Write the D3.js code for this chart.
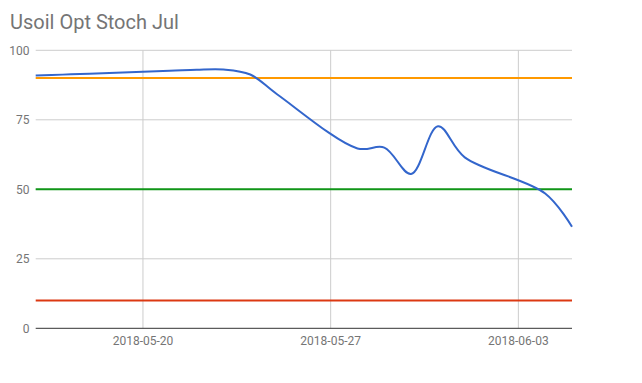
<!DOCTYPE html>
<html>
<head>
<meta charset="utf-8">
<script src="https://cdn.jsdelivr.net/npm/d3@7.9.0/dist/d3.min.js"></script>
<style>
  body { margin: 0; background: #fff; }
  text { font-family: Roboto, sans-serif; }
</style>
</head>
<body>
<svg id="chart" width="642" height="383"></svg>
<script>
// stochastic values, trading days only
const dates = ['2018-05-16', '2018-05-17', '2018-05-18', '2018-05-21', '2018-05-22', '2018-05-23',
    '2018-05-24', '2018-05-25', '2018-05-28', '2018-05-29', '2018-05-30', '2018-05-31',
    '2018-06-01', '2018-06-04', '2018-06-05'];
const stoch = [90.9, 91.25, 91.6, 92.6, 93.0, 93.1, 91.3, 84.2, 64.7, 65.0, 55.5, 72.7, 61.5, 48.5, 36.5];

const levels = [90, 50, 10];
const levelColors = ['#ff9900', '#109618', '#dc3912'];
const yTicks = [0, 25, 50, 75, 100];
const xTicks = ['2018-05-20', '2018-05-27', '2018-06-03'];

const parse = d3.timeParse('%Y-%m-%d');
const svg = d3.select('#chart');

const plotL = 35.7, plotR = 572, plotT = 50.3, plotB = 328.3;

let x = d3.scaleTime()
    .domain([parse('2018-05-16'), parse('2018-06-05')])
    .range([plotL, plotR]);
let y = d3.scaleLinear().domain([0, 100]).range([plotB, plotT]);

svg.append('text')
    .attr('x', 10).attr('y', 29)
    .attr('font-size', 20)
    .attr('fill', '#757575')
    .text('Usoil Opt Stoch Jul');

// gridlines
svg.append('g').selectAll('line')
    .data(yTicks.filter(d => d > 0))
    .join('line')
    .attr('x1', plotL).attr('x2', plotR)
    .attr('y1', d => y(d)).attr('y2', d => y(d))
    .attr('stroke', '#cccccc');

svg.append('g').selectAll('line')
    .data(xTicks)
    .join('line')
    .attr('x1', d => x(parse(d))).attr('x2', d => x(parse(d)))
    .attr('y1', plotT).attr('y2', plotB)
    .attr('stroke', '#cccccc');

svg.append('g').selectAll('text')
    .data(yTicks)
    .join('text')
    .attr('x', 29.5).attr('y', d => y(d) + 4.5)
    .attr('text-anchor', 'end')
    .attr('font-size', 12)
    .attr('fill', '#757575')
    .text(d => d);

svg.append('g').selectAll('text')
    .data(xTicks)
    .join('text')
    .attr('x', d => x(parse(d))).attr('y', 345)
    .attr('text-anchor', 'middle')
    .attr('font-size', 12)
    .attr('fill', '#757575')
    .text(d => d);

// level lines
levels.forEach((lv, i) => {
    svg.append('line')
        .attr('x1', plotL).attr('x2', plotR)
        .attr('y1', y(lv)).attr('y2', y(lv))
        .attr('stroke', levelColors[i])
        .attr('stroke-width', 2);
});

svg.append('line')
    .attr('x1', plotL).attr('x2', plotR)
    .attr('y1', plotB).attr('y2', plotB)
    .attr('stroke', '#333333');

let line = d3.line()
    .x((d, i) => x(parse(dates[i])))
    .y(d => y(d))
    .curve(d3.curveCatmullRom);

svg.append('path')
    .datum(stoch)
    .attr('d', line)
    .attr('fill', 'none')
    .attr('stroke', '#3366cc')
    .attr('stroke-width', 2);
</script>
</body>
</html>
